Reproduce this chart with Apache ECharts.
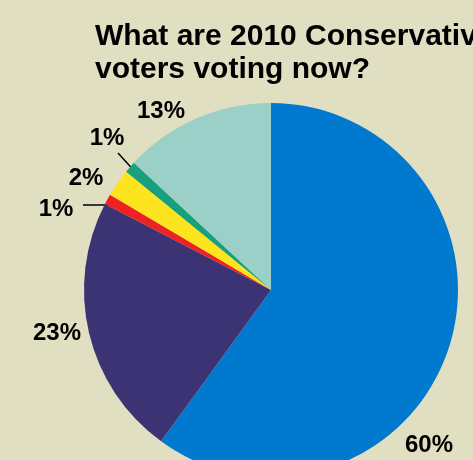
<!DOCTYPE html>
<html>
<head>
<meta charset="utf-8">
<script src="https://cdn.jsdelivr.net/npm/echarts@6/dist/echarts.min.js"></script>
<style>
  html, body { margin: 0; padding: 0; background: #e0dfc2; }
  #chart { width: 473px; height: 460px; }
</style>
</head>
<body>
<div id="chart"></div>
<script>
// parties in clockwise order from 12 o'clock
const parties = ['Conservative', 'Labour', 'Lib Dem', 'UKIP', 'Green', 'Other'];
const shares = [60, 22.6, 0.9, 2.4, 1.0, 13.1];
const colours = ['#0079cf', '#3c3374', '#ee2222', '#fde41e', '#18a07e', '#9ad0c8'];

// where each percentage label sits (centre, px), and the two leader lines
const labelPos = [[429, 445], [57, 333], [56, 209], [86, 178], [107, 138], [161, 111]];
const leaders = [null, null, [[83, 205], [110, 205]], null, [[118, 153], [138, 175]], null];

const chart = echarts.init(document.getElementById('chart'));
chart.setOption({
  backgroundColor: '#e0dfc2',
  animation: false,
  title: {
    text: 'What are 2010 Conservative\nvoters voting now?',
    left: 90,
    top: 15,
    textStyle: {
      fontFamily: 'Liberation Sans, Arial, sans-serif',
      fontSize: 30,
      fontWeight: 'bold',
      lineHeight: 33,
      color: '#000'
    }
  },
  series: [{
    type: 'pie',
    center: [271, 290],
    radius: 187,
    startAngle: 90,
    clockwise: true,
    percentPrecision: 0,
    avoidLabelOverlap: false,
    data: parties.map((p, i) => ({
      name: p,
      value: shares[i],
      itemStyle: { color: colours[i] },
      labelLine: { show: leaders[i] !== null }
    })),
    label: {
      show: true,
      formatter: '{d}%',
      overflow: 'none',
      fontFamily: 'Liberation Sans, Arial, sans-serif',
      fontSize: 24,
      fontWeight: 'bold',
      color: '#000'
    },
    labelLine: {
      lineStyle: { color: '#000', width: 1.5 }
    },
    labelLayout: function (params) {
      const i = params.dataIndex;
      const out = { x: labelPos[i][0], y: labelPos[i][1], align: 'center', verticalAlign: 'middle', hideOverlap: false };
      if (leaders[i]) out.labelLinePoints = leaders[i];
      return out;
    },
    itemStyle: { borderWidth: 0 }
  }]
});
</script>
</body>
</html>
